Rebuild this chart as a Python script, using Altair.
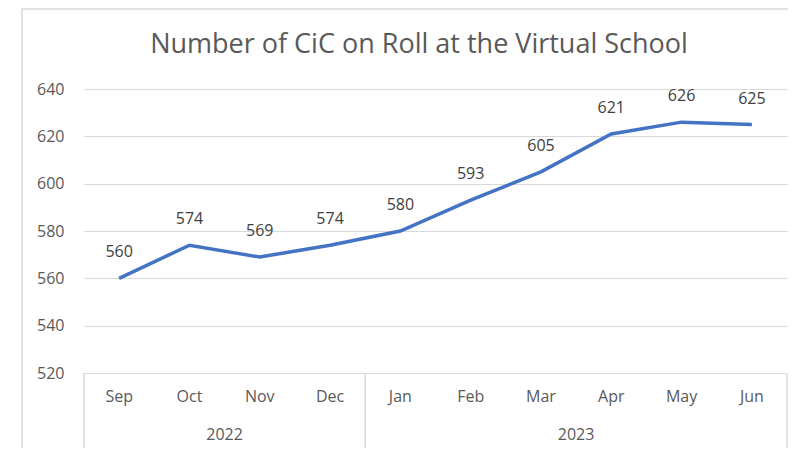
import altair as alt
import pandas as pd

months = ["Sep", "Oct", "Nov", "Dec", "Jan", "Feb", "Mar", "Apr", "May", "Jun"]
values = [560, 574, 569, 574, 580, 593, 605, 621, 626, 625]
years = ["2022", "2023"]
months_per_year = [4, 6]
y_ticks = [520, 540, 560, 580, 600, 620, 640]
title_text = "Number of CiC on Roll at the Virtual School"

W, H = 703, 284
FONT = "Open Sans"
GRAY = "#595959"

df = pd.DataFrame({"month": months, "value": values,
                   "pos": [i + 0.5 for i in range(len(months))]})

bounds = [0]
for n in months_per_year:
    bounds.append(bounds[-1] + n)
ydf = pd.DataFrame({"year": years,
                    "pos": [(bounds[i] + bounds[i + 1]) / 2 for i in range(len(years))]})
sdf = pd.DataFrame({"pos": bounds})

xs = alt.X("pos:Q", scale=alt.Scale(domain=[0, len(months)]), axis=None)
ys = alt.Y("value:Q", scale=alt.Scale(domain=[y_ticks[0], y_ticks[-1]]),
           axis=alt.Axis(values=y_ticks, grid=True, gridColor="#d9d9d9", gridWidth=1,
                         domain=False, ticks=False, labelPadding=20, labelFontSize=16,
                         labelColor=GRAY, labelFont=FONT, title=None))

frame = alt.Chart(pd.DataFrame({"a": [0]})).mark_rect(
    fill=None, stroke="#d9d9d9", strokeWidth=1.5).encode(
    x=alt.value(-62), x2=alt.value(780), y=alt.value(-80), y2=alt.value(420))

title = alt.Chart(pd.DataFrame({"t": [title_text]})).mark_text(
    font=FONT, fontSize=27, color=GRAY, baseline="middle", align="center").encode(
    text="t:N", x=alt.value(335), y=alt.value(-44))

line = alt.Chart(df).mark_line(color="#4472C4", strokeWidth=3.5).encode(x=xs, y=ys)

labels = alt.Chart(df).mark_text(font=FONT, fontSize=16, color="#404040",
                                 baseline="middle", dy=-26).encode(
    x=xs, y=alt.Y("value:Q"), text="value:Q")

mlabels = alt.Chart(df).mark_text(font=FONT, fontSize=16, color=GRAY,
                                  baseline="middle").encode(
    x=xs, y=alt.value(H + 24), text="month:N")

ylabels = alt.Chart(ydf).mark_text(font=FONT, fontSize=16, color=GRAY,
                                   baseline="middle").encode(
    x=alt.X("pos:Q", scale=alt.Scale(domain=[0, len(months)]), axis=None),
    y=alt.value(H + 62), text="year:N")

seps = alt.Chart(sdf).mark_rule(color="#d9d9d9", strokeWidth=1.5).encode(
    x=alt.X("pos:Q", scale=alt.Scale(domain=[0, len(months)]), axis=None),
    y=alt.value(H), y2=alt.value(H + 100))

chart = alt.layer(frame, title, line, labels, mlabels, ylabels, seps).properties(
    width=W, height=H,
    autosize=alt.AutoSizeParams(type="none"),
    padding={"left": 76, "top": 81, "right": 1, "bottom": 75},
).configure_view(stroke=None)

chart.save("out.html", embed_options={"renderer": "svg", "actions": False})
